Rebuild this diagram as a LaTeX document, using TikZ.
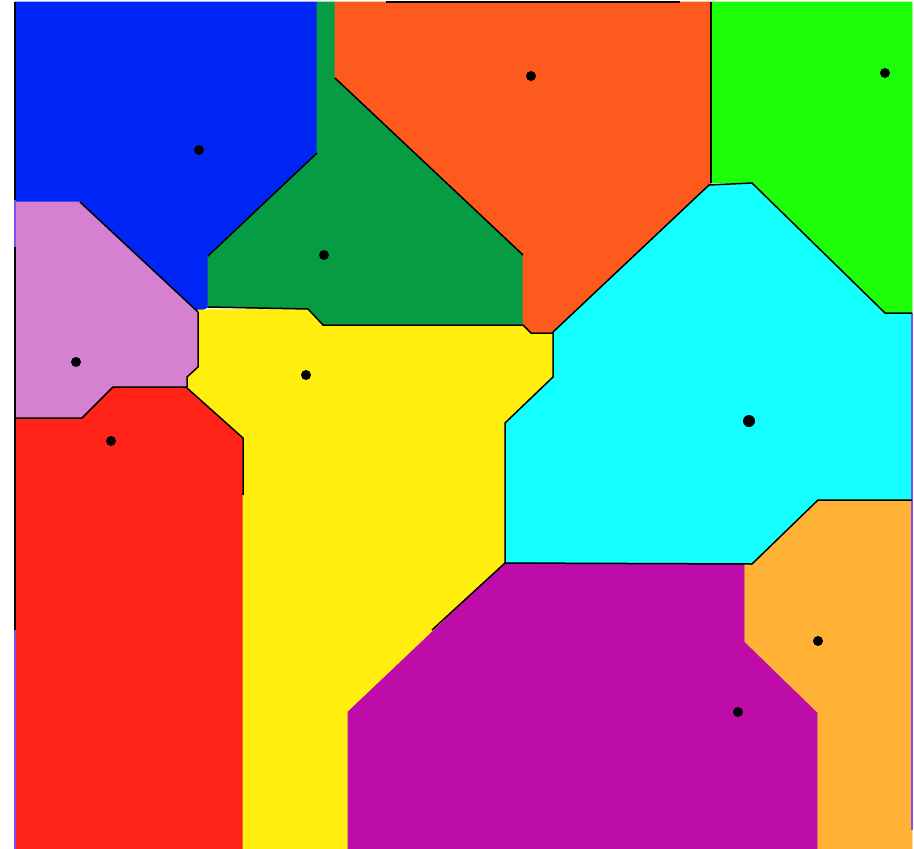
\documentclass[tikz,border=0pt]{standalone}
\usepackage{xcolor}
\usepackage{tikz}
\definecolor{cellblue}{HTML}{0026F5}
\definecolor{cellgreen}{HTML}{069C43}
\definecolor{cellorange}{HTML}{FF5A1E}
\definecolor{celllime}{HTML}{1CFF08}
\definecolor{cellorchid}{HTML}{D580D0}
\definecolor{cellyellow}{HTML}{FFEE0E}
\definecolor{cellred}{HTML}{FF2318}
\definecolor{cellcyan}{HTML}{14FFFF}
\definecolor{cellmagenta}{HTML}{BD0CA7}
\definecolor{cellamber}{HTML}{FFB236}
\definecolor{rimviolet}{HTML}{7F4FF0}

\begin{document}
\begin{tikzpicture}[x=1pt, y=-1pt,
    cell/.style={line width=0.8pt, line join=round},
    edge/.style={black, line width=1.5pt, line join=round},
    site/.style={circle, fill=black, inner sep=0pt, minimum size=10pt}]
  \useasboundingbox (0,0) rectangle (914,849);
  \fill[white] (0,0) rectangle (914,849);
  % cells
  \filldraw[cell, fill=cellblue, draw=cellblue]
    (15,2) -- (317,2) -- (317,153) -- (208,256) -- (208,307) -- (198,312)
    -- (80,202) -- (15,202) -- cycle;
  \filldraw[cell, fill=cellgreen, draw=cellgreen]
    (317,2) -- (335,2) -- (335,78) -- (523,255) -- (523,325) -- (323,325)
    -- (308,309) -- (208,307) -- (208,256) -- (317,153) -- cycle;
  \filldraw[cell, fill=cellorange, draw=cellorange]
    (335,2) -- (711,2) -- (711,183) -- (709,185) -- (552,333) -- (531,333)
    -- (523,325) -- (523,255) -- (335,78) -- cycle;
  \filldraw[cell, fill=celllime, draw=celllime]
    (711,2) -- (912,2) -- (912,313) -- (885,313) -- (752,183) -- (711,183) -- cycle;
  \filldraw[cell, fill=cellorchid, draw=cellorchid]
    (15,202) -- (80,202) -- (198,312) -- (198,367) -- (187,377) -- (187,387)
    -- (113,387) -- (82,418) -- (15,418) -- cycle;
  \filldraw[cell, fill=cellred, draw=cellred]
    (15,418) -- (82,418) -- (113,387) -- (187,387) -- (243,438) -- (243,849)
    -- (15,849) -- cycle;
  \filldraw[cell, fill=cellyellow, draw=cellyellow]
    (198,312) -- (198,310) -- (308,309) -- (323,325) -- (523,325) -- (531,333)
    -- (553,333) -- (553,377) -- (505,423) -- (505,563) -- (348,712)
    -- (348,849) -- (243,849) -- (243,438) -- (187,387) -- (187,377)
    -- (198,367) -- cycle;
  \filldraw[cell, fill=cellcyan, draw=cellcyan]
    (552,333) -- (709,185) -- (752,183) -- (885,313) -- (912,313) -- (912,500)
    -- (818,500) -- (752,564) -- (505,563) -- (505,423) -- (553,377)
    -- (553,333) -- cycle;
  \filldraw[cell, fill=cellamber, draw=cellamber]
    (744,564) -- (752,564) -- (818,500) -- (912,500) -- (912,849) -- (817,849)
    -- (817,713) -- (744,642) -- cycle;
  \filldraw[cell, fill=cellmagenta, draw=cellmagenta]
    (505,563) -- (744,564) -- (744,642) -- (817,713) -- (817,849) -- (348,849)
    -- (348,712) -- cycle;
  % frame
  \draw[rimviolet, line width=2pt] (15,2) -- (15,849);
  \draw[rimviolet, line width=2pt] (912,313) -- (912,830);
  \draw[edge] (15,2) -- (15,200);
  \draw[edge] (15,247) -- (15,630);
  \draw[edge] (386,2) -- (680,2);
  % borders
  \draw[edge] (80,202) -- (198,312);
  \draw[edge] (317,153) -- (208,256);
  \draw[edge] (208,307) -- (308,309) -- (323,325) -- (523,325) -- (531,333) -- (552,333);
  \draw[edge] (335,78) -- (523,255);
  \draw[edge] (552,333) -- (709,185) -- (752,183) -- (885,313) -- (912,313);
  \draw[edge] (711,2) -- (711,183);
  \draw[edge] (553,333) -- (553,377) -- (505,423) -- (505,563) -- (752,564);
  \draw[edge] (505,563) -- (432,630);
  \draw[edge] (752,564) -- (818,500) -- (912,500);
  \draw[edge] (198,312) -- (198,367) -- (187,377) -- (187,387) -- (113,387)
    -- (82,418) -- (15,418);
  \draw[edge] (187,388) -- (243,438) -- (243,495);
  % sites
  \foreach \n/\x/\y in {blue/199/150, green/324/255, orange/531/76,
      lime/885/73, orchid/76/362, yellow/306/375, red/111/441,
      amber/818/641, magenta/738/712}
    \node[site] (s\n) at (\x,\y) {};
  \node[site, minimum size=12pt] (scyan) at (749,421) {};
\end{tikzpicture}
\end{document}
